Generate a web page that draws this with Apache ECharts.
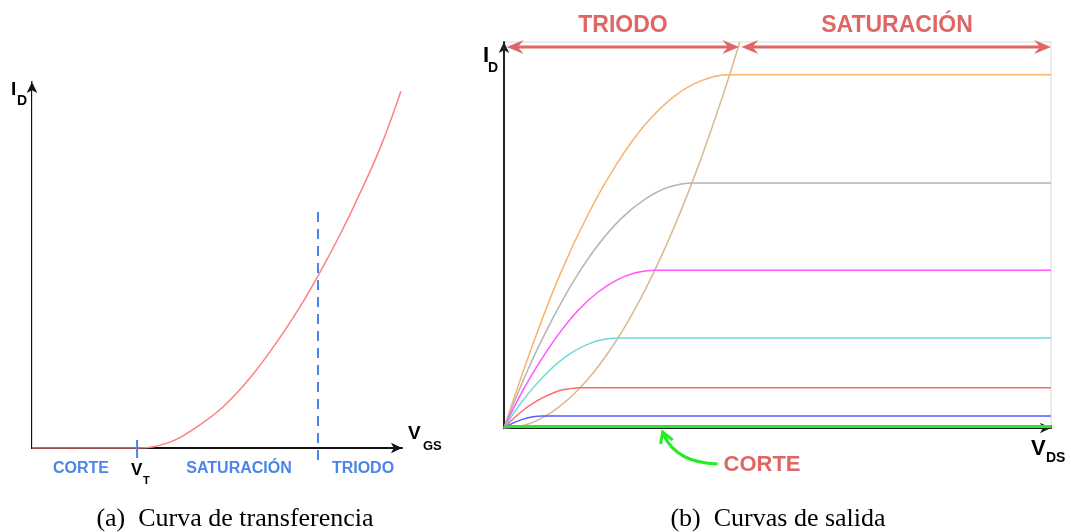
<!DOCTYPE html>
<html>
<head>
<meta charset="utf-8">
<script src="https://cdn.jsdelivr.net/npm/echarts@6/dist/echarts.min.js"></script>
<style>
html,body{margin:0;padding:0;background:#fff;}
#c{width:1071px;height:532px;}
</style>
</head>
<body>
<div id="c"></div>
<script>
// ---------- (a) transfer curve ----------
const tfVgs = [0, 2.84, 3.73, 4.46, 5.16, 5.89, 6.62, 7.24, 7.73, 8.32, 8.78, 9.41, 9.97];
const tfId  = [0, 0, 0.16, 0.58, 1.12, 1.91, 2.90, 3.85, 4.70, 5.82, 6.78, 8.20, 9.75];
const vtValue = 2.84;
const triodeBoundaryVgs = 7.73;
const triodeLineTop = 6.45;

// ---------- (b) output curves ----------
const outNames = ['c6', 'c5', 'c4', 'c3', 'c2', 'c1', 'corte'];
const outVds = [
  [0, 0.52, 1.03, 1.55, 2.07, 2.58, 3.10, 3.61, 4.13, 10],
  [0, 0.43, 0.87, 1.30, 1.73, 2.16, 2.60, 3.03, 3.46, 10],
  [0, 0.34, 0.69, 1.03, 1.37, 1.71, 2.06, 2.40, 2.74, 10],
  [0, 0.26, 0.52, 0.78, 1.04, 1.29, 1.55, 1.81, 2.07, 10],
  [0, 0.17, 0.35, 0.52, 0.70, 0.87, 1.04, 1.22, 1.39, 10],
  [0, 0.18, 0.35, 0.53, 0.70, 10],
  [0, 10]
];
const outId = [
  [0, 2.14, 4.00, 5.57, 6.86, 7.86, 8.58, 9.00, 9.15, 9.15],
  [0, 1.49, 2.78, 3.87, 4.76, 5.45, 5.95, 6.25, 6.35, 6.35],
  [0, 0.96, 1.79, 2.49, 3.07, 3.51, 3.83, 4.02, 4.09, 4.09],
  [0, 0.55, 1.02, 1.42, 1.75, 2.00, 2.18, 2.29, 2.33, 2.33],
  [0, 0.24, 0.46, 0.63, 0.78, 0.89, 0.98, 1.02, 1.04, 1.04],
  [0, 0.14, 0.23, 0.29, 0.31, 0.31],
  [0.04, 0.04]
];
const outColors = ['#f7b36c', '#b4b4b4', '#ff55ff', '#70d9d6', '#ff6b6b', '#5a5aff', '#2ee62e'];
const boundaryVds = [0, 0.5, 1, 1.5, 2, 2.5, 3, 3.5, 4, 4.31];
const boundaryId  = [0, 0.13, 0.54, 1.21, 2.15, 3.36, 4.84, 6.59, 8.61, 10.0];
const triodoSpan = [0.05, 4.30];
const satSpan = [4.34, 10.0];
const arrowLevel = 9.87;
const corteTipVds = 2.9;

const zip = (a, b) => a.map((v, i) => [v, b[i]]);
const FONT = "'Liberation Sans', Arial, sans-serif";
const RED = '#e06666';
const BLUE = '#4a86e8';

const chart = echarts.init(document.getElementById('c'), null, {renderer: 'canvas'});

const axisArrow = (color, w) => ({
  show: true, onZero: false,
  lineStyle: {color: color, width: w},
  symbol: ['none', 'arrow'], symbolSize: [8, 11]
});

const series = [];
series.push({
  type: 'line', xAxisIndex: 0, yAxisIndex: 0, showSymbol: false,
  smooth: 0.4,
  data: zip(tfVgs, tfId),
  lineStyle: {color: '#ff8080', width: 1.5}, z: 3, silent: true
});
series.push({
  type: 'line', xAxisIndex: 1, yAxisIndex: 2, showSymbol: false,
  smooth: 0.4,
  data: zip(boundaryVds, boundaryId),
  lineStyle: {color: '#dcb891', width: 1.5}, z: 3, silent: true
});
outNames.forEach((n, i) => {
  series.push({
    name: n, type: 'line', xAxisIndex: 1, yAxisIndex: 2, showSymbol: false,
    smooth: 0.4,
    data: zip(outVds[i], outId[i]),
    lineStyle: {color: outColors[i], width: n === 'corte' ? 3 : 1.5},
    z: n === 'corte' ? 4 : 3, silent: true
  });
});

chart.setOption({
  animation: false,
  backgroundColor: '#fff',
  grid: [
    {left: 32, top: 82, width: 370, height: 366, show: false},
    {left: 504, top: 42, width: 547, height: 386, show: true, borderColor: '#dadada', borderWidth: 1, backgroundColor: 'transparent'}
  ],
  xAxis: [
    {type: 'value', gridIndex: 0, min: 0, max: 10, axisLine: axisArrow('#111', 2),
     axisTick: {show: false}, axisLabel: {show: false}, splitLine: {show: false}},
    {type: 'value', gridIndex: 1, min: 0, max: 10, interval: 1, axisLine: axisArrow('#222', 2),
     axisTick: {show: true, inside: true, length: 3, lineStyle: {color: '#777', width: 1}},
     axisLabel: {show: false}, splitLine: {show: false}}
  ],
  yAxis: [
    {type: 'value', gridIndex: 0, min: 0, max: 10, axisLine: axisArrow('#111', 2),
     axisTick: {show: false}, axisLabel: {show: false}, splitLine: {show: false}},
    {type: 'value', gridIndex: 0, min: 0, max: 10, position: 'right',
     axisLine: {show: true, lineStyle: {color: '#dadada', width: 1}},
     axisTick: {show: false}, axisLabel: {show: false}, splitLine: {show: false}},
    {type: 'value', gridIndex: 1, min: 0, max: 10, axisLine: axisArrow('#222', 2),
     axisTick: {show: false}, axisLabel: {show: false}, splitLine: {show: false}}
  ],
  series: series
});

const px = (g, x, y) => chart.convertToPixel({gridIndex: g}, [x, y]);
const txt = (text, x, y, size, color, align, family) => ({
  type: 'text', x: x, y: y, silent: true, z: 10,
  style: {text: text, font: 'bold ' + size + 'px ' + (family || FONT), fill: color,
          align: align || 'center', verticalAlign: 'middle'}
});
const g = [];

// ---- (a) annotations
const vt = px(0, vtValue, 0);
g.push({type: 'line', silent: true, z: 9, shape: {x1: vt[0], y1: vt[1] - 8, x2: vt[0], y2: vt[1] + 10},
        style: {stroke: BLUE, lineWidth: 2}});
const tTop = px(0, triodeBoundaryVgs, triodeLineTop);
const tBot = px(0, triodeBoundaryVgs, 0);
g.push({type: 'line', silent: true, z: 9, shape: {x1: tTop[0], y1: tTop[1], x2: tBot[0], y2: tBot[1] + 12},
        style: {stroke: BLUE, lineWidth: 2, lineDash: [10, 7]}});
g.push(txt('I', 11, 90, 19, '#000', 'left'));
g.push(txt('D', 17, 101, 14, '#000', 'left'));
g.push(txt('V', 408, 434, 19, '#000', 'left'));
g.push(txt('GS', 423, 446, 13, '#000', 'left'));
g.push(txt('CORTE', 81, 469, 16, BLUE));
g.push(txt('V', 131, 470, 17, '#000', 'left'));
g.push(txt('T', 143, 481, 11, '#000', 'left'));
g.push(txt('SATURACIÓN', 239, 469, 16, BLUE));
g.push(txt('TRIODO', 363, 469, 16, BLUE));

// ---- (b) annotations
g.push(txt('I', 483, 56, 22, '#000', 'left'));
g.push(txt('D', 488, 68, 14, '#000', 'left'));
g.push(txt('V', 1031, 449, 22, '#000', 'left'));
g.push(txt('DS', 1046, 458, 14, '#000', 'left'));
g.push(txt('TRIODO', 623, 26, 23, RED));
g.push(txt('SATURACIÓN', 897, 26, 23, RED));
g.push(txt('CORTE', 762, 465, 22, RED));

function dblArrow(x1, x2, y) {
  const L = 17, W = 7, N = 11;
  g.push({type: 'line', silent: true, z: 9, shape: {x1: x1 + 6, y1: y, x2: x2 - 6, y2: y},
          style: {stroke: RED, lineWidth: 3}});
  g.push({type: 'polygon', silent: true, z: 9,
          shape: {points: [[x1, y], [x1 + L, y - W], [x1 + N, y], [x1 + L, y + W]]},
          style: {fill: RED}});
  g.push({type: 'polygon', silent: true, z: 9,
          shape: {points: [[x2, y], [x2 - L, y - W], [x2 - N, y], [x2 - L, y + W]]},
          style: {fill: RED}});
}
const a1 = px(1, triodoSpan[0], arrowLevel), a2 = px(1, triodoSpan[1], arrowLevel);
const a3 = px(1, satSpan[0], arrowLevel), a4 = px(1, satSpan[1], arrowLevel);
dblArrow(a1[0], a2[0], a1[1]);
dblArrow(a3[0], a4[0], a3[1]);

const tip = px(1, corteTipVds, 0);
const tx = tip[0], ty = tip[1] + 4;
g.push({type: 'bezierCurve', silent: true, z: 9,
        shape: {x1: tx + 55, y1: ty + 32, cpx1: tx + 22, cpy1: ty + 31, cpx2: tx + 8, cpy2: ty + 18, x2: tx + 1, y2: ty + 3},
        style: {stroke: '#22ee22', lineWidth: 3, fill: null}});
g.push({type: 'polyline', silent: true, z: 9,
        shape: {points: [[tx - 2, ty + 12], [tx, ty], [tx + 10, ty + 8]]},
        style: {stroke: '#22ee22', lineWidth: 3, fill: null, lineJoin: 'miter'}});

// ---- captions
const SERIF = "'Liberation Serif', 'DejaVu Serif', serif";
g.push({type: 'text', x: 235, y: 519, silent: true,
        style: {text: '(a)  Curva de transferencia', font: '26px ' + SERIF, fill: '#000', align: 'center', verticalAlign: 'middle'}});
g.push({type: 'text', x: 778, y: 519, silent: true,
        style: {text: '(b)  Curvas de salida', font: '26px ' + SERIF, fill: '#000', align: 'center', verticalAlign: 'middle'}});

chart.setOption({graphic: {elements: g}});
</script>
</body>
</html>
